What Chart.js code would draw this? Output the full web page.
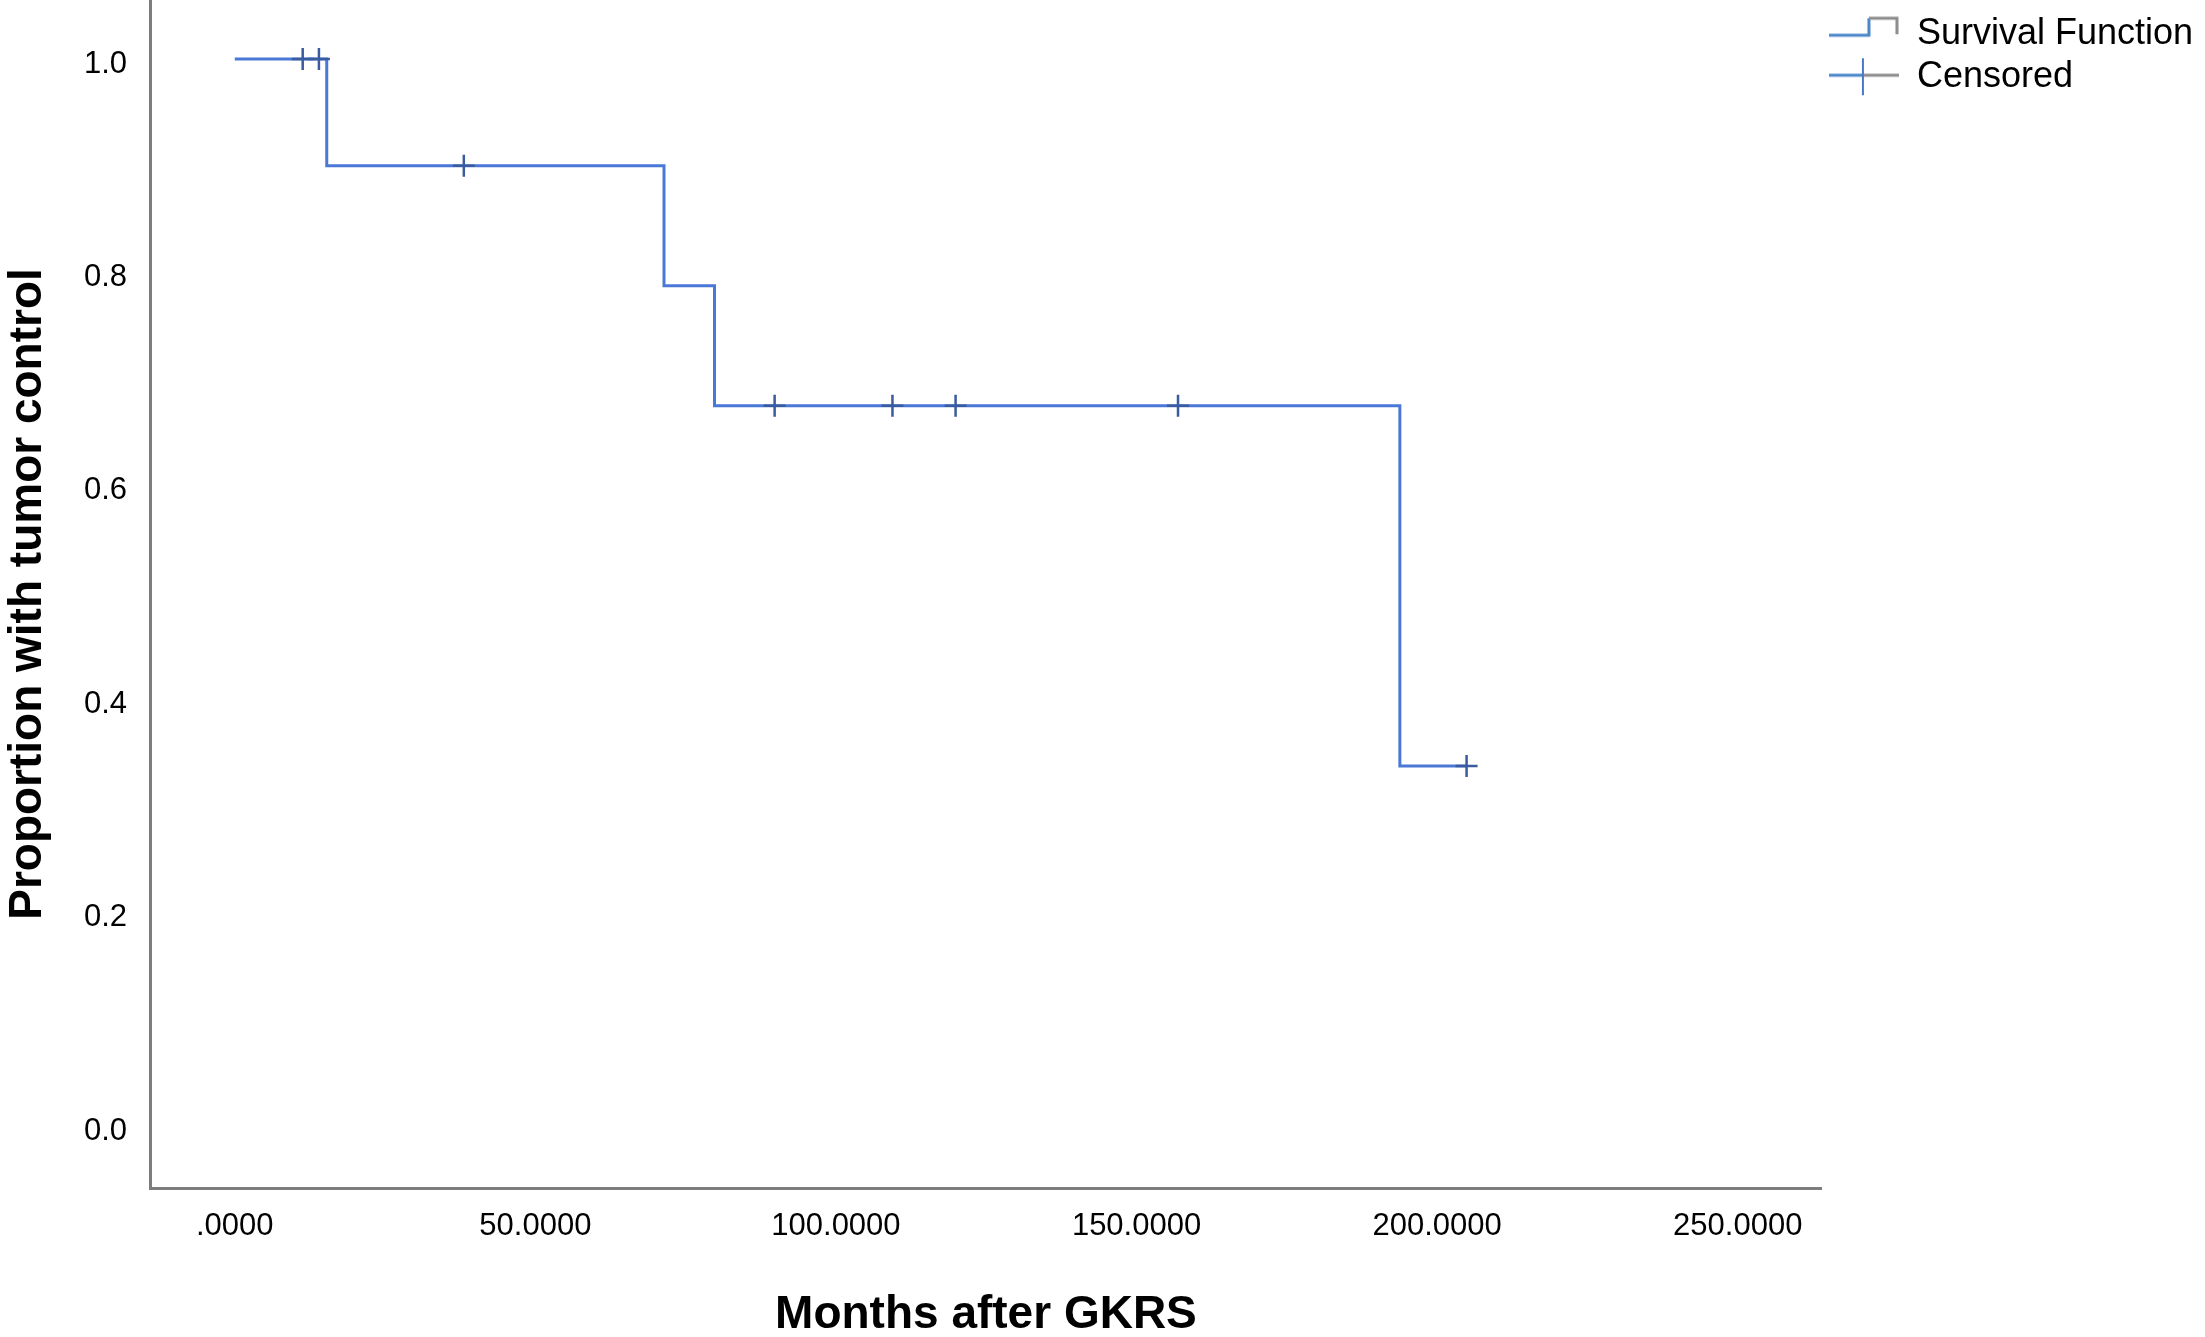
<!DOCTYPE html>
<html>
<head>
<meta charset="utf-8">
<script src="https://cdn.jsdelivr.net/npm/chart.js@4"></script>
<style>
  html, body { margin: 0; padding: 0; background: #fff; }
  canvas { display: block; }
</style>
</head>
<body>
<canvas id="km" width="2205" height="1337"></canvas>
<script>
// Kaplan-Meier estimate, months after GKRS
const stepMonths = [0, 15.3, 71.4, 79.8, 193.8, 204.9];
const stepSurvival = [1.0, 0.9, 0.7875, 0.675, 0.3375, 0.3375];

// censored cases
const censoredMonths = [11.3, 14.0, 38.1, 89.8, 109.4, 119.9, 156.9, 204.9];
const censoredSurvival = [1.0, 1.0, 0.9, 0.675, 0.675, 0.675, 0.675, 0.3375];

const xTickValues = [0, 50, 100, 150, 200, 250];
const xTickLabels = ['.0000', '50.0000', '100.0000', '150.0000', '200.0000', '250.0000'];
const yTickValues = [0, 0.2, 0.4, 0.6, 0.8, 1.0];
const yTickLabels = ['0.0', '0.2', '0.4', '0.6', '0.8', '1.0'];

const seriesNames = ['Survival Function', 'Censored'];

const FONT = "'Liberation Sans', Arial, sans-serif";
const LINE_BLUE = '#4a78d6';
const CROSS_BLUE = '#3a5c9e';
const AXIS_GRAY = '#7d7d7d';

// little legend pictures, like the SPSS ones
function makeStepIcon(){
    var c = document.createElement('canvas');
    c.width = 70; c.height = 40;
    var g = c.getContext('2d');
    g.lineWidth = 3;
    g.strokeStyle = '#4a86c8';
    g.beginPath();
    g.moveTo(0, 21); g.lineTo(40, 21); g.lineTo(40, 4);
    g.stroke();
    g.strokeStyle = '#8c8c8c';
    g.beginPath();
    g.moveTo(40, 4); g.lineTo(68, 4); g.lineTo(68, 20);
    g.stroke();
    return c;
}
function makeCrossIcon(){
    var c = document.createElement('canvas');
    c.width = 70; c.height = 40;
    var g = c.getContext('2d');
    g.lineWidth = 3;
    g.strokeStyle = '#4a86c8';
    g.beginPath(); g.moveTo(0, 18); g.lineTo(34, 18); g.stroke();
    g.strokeStyle = '#8c8c8c';
    g.beginPath(); g.moveTo(34, 18); g.lineTo(70, 18); g.stroke();
    g.strokeStyle = '#4a78c8';
    g.lineWidth = 2;
    g.beginPath(); g.moveTo(34, 1); g.lineTo(34, 38); g.stroke();
    return c;
}
const stepIcon = makeStepIcon();
const crossIcon = makeCrossIcon();

const stepData = stepMonths.map((m, i) => ({x: m, y: stepSurvival[i]}));
const censoredData = censoredMonths.map((m, i) => ({x: m, y: censoredSurvival[i]}));

const ctx = document.getElementById('km').getContext('2d');
const chart = new Chart(ctx, {
    type: 'scatter',
    data: {
        datasets: [
            {
                label: seriesNames[0],
                data: stepData,
                showLine: true,
                stepped: 'before',
                borderColor: LINE_BLUE,
                borderWidth: 3,
                pointRadius: 0,
                fill: false,
                order: 1
            },
            {
                label: seriesNames[1],
                data: censoredData,
                showLine: false,
                pointStyle: 'cross',
                pointRadius: 11,
                borderColor: CROSS_BLUE,
                backgroundColor: CROSS_BLUE,
                pointBorderWidth: 2.5,
                order: 0
            }
        ]
    },
    options: {
        responsive: false,
        animation: false,
        devicePixelRatio: 1,
        layout: {
            autoPadding: false,
            padding: {top: 0, left: 0, right: 2, bottom: 0}
        },
        plugins: {
            tooltip: {enabled: false},
            legend: {
                display: true,
                position: 'right',
                align: 'start',
                title: {
                    display: true,
                    text: '',
                    font: {size: 1},
                    padding: {top: 8, bottom: 0}
                },
                labels: {
                    usePointStyle: true,
                    pointStyleWidth: 70,
                    boxWidth: 70,
                    padding: 7,
                    color: '#000',
                    font: {family: FONT, size: 36},
                    generateLabels: function(chart){
                        return [
                            {text: seriesNames[0], pointStyle: stepIcon, datasetIndex: 0,
                             fontColor: '#000', lineWidth: 0, hidden: false},
                            {text: seriesNames[1], pointStyle: crossIcon, datasetIndex: 1,
                             fontColor: '#000', lineWidth: 0, hidden: false}
                        ];
                    }
                }
            }
        },
        scales: {
            x: {
                type: 'linear',
                min: -14.1,
                max: 264.0,
                grid: {display: false},
                border: {display: true, color: AXIS_GRAY, width: 3},
                afterBuildTicks: function(scale){
                    scale.ticks = xTickValues.map(v => ({value: v}));
                },
                afterFit: function(scale){
                    scale.height = 149;
                    scale.paddingLeft = 0;
                    scale.paddingRight = 0;
                },
                ticks: {
                    autoSkip: false,
                    maxRotation: 0,
                    padding: 12,
                    color: '#000',
                    font: {family: FONT, size: 31},
                    callback: function(value, index){
                        return xTickLabels[index];
                    }
                },
                title: {
                    display: true,
                    text: 'Months after GKRS',
                    color: '#000',
                    font: {family: FONT, size: 46, weight: 'bold'},
                    padding: {top: 0, bottom: -6}
                }
            },
            y: {
                type: 'linear',
                min: -0.058,
                max: 1.0553,
                grid: {display: false},
                border: {display: true, color: AXIS_GRAY, width: 3},
                afterBuildTicks: function(scale){
                    scale.ticks = yTickValues.map(v => ({value: v}));
                },
                afterFit: function(scale){
                    scale.width = 150;
                    scale.paddingTop = 0;
                    scale.paddingBottom = 0;
                },
                ticks: {
                    autoSkip: false,
                    padding: 15,
                    labelOffset: 5,
                    color: '#000',
                    font: {family: FONT, size: 31},
                    callback: function(value, index){
                        return yTickLabels[index];
                    }
                },
                title: {
                    display: true,
                    text: 'Proportion with tumor control',
                    color: '#000',
                    font: {family: FONT, size: 46, weight: 'bold'},
                    padding: {top: 1, bottom: 0}
                }
            }
        }
    }
});
</script>
</body>
</html>
